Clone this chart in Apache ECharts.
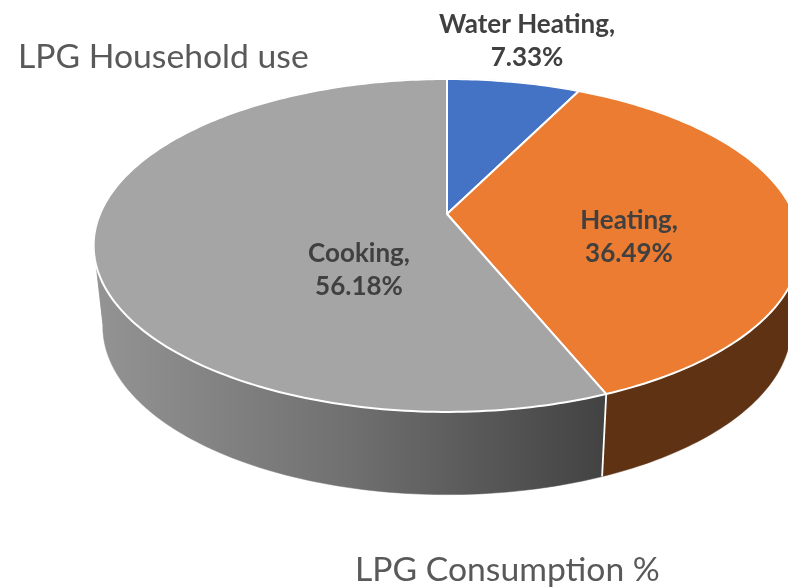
<!DOCTYPE html>
<html>
<head>
<meta charset="utf-8">
<style>html,body{margin:0;padding:0;background:#fff}#c{width:788px;height:587px}</style>
<script src="https://cdn.jsdelivr.net/npm/echarts@6/dist/echarts.min.js"></script>
</head>
<body>
<div id="c"></div>
<script>
const categories = ['Water Heating', 'Heating', 'Cooking'];
const shares = [7.33, 36.49, 56.18];
const topColors = ['#4472c4', '#eb7c31', '#a5a5a5'];
const chartTitle = 'LPG Household use';
const axisNote = 'LPG Consumption %';

// Perspective model of the tilted disc
const CX = 447, P = 0.189;
const TOP = {a: 347, b: 160.5, y: 214};
const BASE = {a: 338, b: 162.2, y: 294.6};
const LABEL_AT = [[527, 41], [629, 237], [359, 270]];
// Wall is cut where it folds over itself at the far left and right of the disc
const WALL_CUTS = [70, 80, 90, 100, 260, 270, 280, 290, 300];

function project(plane, deg) {
  const t = deg * Math.PI / 180, u = Math.sin(t), d = -Math.cos(t);
  const s = 1 / (1 - P * d);
  return [CX + plane.a * u * s, plane.y + plane.b * d * s];
}
function arc(plane, from, to) {
  const pts = [], n = Math.max(2, Math.ceil(to - from));
  for (let i = 0; i <= n; i++) pts.push(project(plane, from + (to - from) * i / n));
  return pts;
}
const total = shares.reduce((a, b) => a + b, 0);
function startDeg(i) {
  return shares.slice(0, i).reduce((a, b) => a + b, 0) / total * 360;
}
function wallFill(i) {
  if (i === 2) {
    return new echarts.graphic.LinearGradient(93, 0, 602, 0, [
      {offset: 0, color: '#949494'},
      {offset: 0.5, color: '#707070'},
      {offset: 1, color: '#434343'}
    ], true);
  }
  return i === 1 ? '#5f3214' : '#2a4476';
}
function renderItem(params, api) {
  const i = params.dataIndex;
  const from = startDeg(i), to = from + api.value(0) / total * 360;
  const topArc = arc(TOP, from, to);
  const children = [];
  const fill = wallFill(i);
  const stops = [from].concat(WALL_CUTS.filter(c => c > from && c < to), [to]);
  for (let k = 0; k + 1 < stops.length; k++) {
    const t = arc(TOP, stops[k], stops[k + 1]);
    const b = arc(BASE, stops[k], stops[k + 1]);
    children.push({type: 'polygon', z2: 1,
      shape: {points: t.concat(b.reverse())},
      style: {fill, stroke: fill, lineWidth: 0.5}});
  }
  const t0 = project(TOP, from), b0 = project(BASE, from);
  children.push({type: 'line', z2: 5,
    shape: {x1: t0[0], y1: t0[1], x2: b0[0], y2: b0[1]},
    style: {stroke: '#fff', lineWidth: 1.8}});
  children.push({type: 'polygon', z2: 10,
    shape: {points: [[CX, TOP.y]].concat(topArc)},
    style: {fill: topColors[i], stroke: '#fff', lineWidth: 2, lineJoin: 'round'}});
  children.push({type: 'text', z2: 20, x: LABEL_AT[i][0], y: LABEL_AT[i][1],
    style: {
      text: categories[i] + ',\n' + api.value(0).toFixed(2) + '%',
      fill: '#404040', font: 'bold 26px Lato, sans-serif',
      align: 'center', verticalAlign: 'middle', lineHeight: 33
    }});
  return {type: 'group', children};
}
const chart = echarts.init(document.getElementById('c'), null, {renderer: 'canvas'});
chart.setOption({
  animation: false,
  backgroundColor: '#fff',
  title: [
    {text: chartTitle, left: 18, top: 40, padding: 0,
      textStyle: {fontFamily: 'Lato, sans-serif', fontSize: 33.7, fontWeight: 'normal', color: '#595959'}},
    {text: axisNote, left: 355, top: 553, padding: 0,
      textStyle: {fontFamily: 'Lato, sans-serif', fontSize: 33.7, fontWeight: 'normal', color: '#595959'}}
  ],
  series: [{
    type: 'custom',
    coordinateSystem: 'none',
    renderItem,
    data: shares.map((v, i) => ({name: categories[i], value: [v]}))
  }]
});
</script>
</body>
</html>
